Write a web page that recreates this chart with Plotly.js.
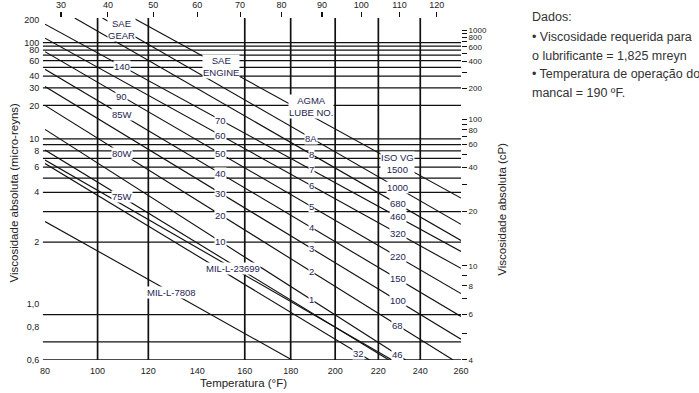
<!DOCTYPE html>
<html><head><meta charset="utf-8">
<script src="https://cdn.plot.ly/plotly-3.0.1.min.js"></script>
<style>html,body{margin:0;padding:0;background:#fff;}#chart{width:699px;height:393px;}</style>
</head><body><div id="chart"></div>
<script>
// ---- axis values ----
const tempTicksF = [80,100,120,140,160,180,200,220,240,260];
const tempGridF = [100,120,160,180,200,220,240];
const tempTicksC = [30,40,50,60,70,80,90,100,110,120];
const viscTicks = [200,100,80,60,40,30,20,10,8,6,4,2,1.0,0.8,0.6];
const viscTickText = ["200","100","80","60","40","30","20","10","8","6","4","2","1,0","0,8","0,6"];
const viscGrid = [100,90,80,70,60,50,40,30,20,10,9,8,7,6,5,4,3,2,0.9,0.7];
const cpTicks = [1000,900,800,700,600,500,400,300,200,100,90,80,70,60,50,40,30,20,10,9,8,7,6,5,4];
const cpTickText = ["1000","","800","","600","","400","","200","100","","80","","60","","40","","20","10","","8","","6","","4"];

// ---- lines: start (temp °F, viscosity µreyn) and end ----
const lineNames = ["ISO 1500","ISO 1000","ISO 680","ISO 460","ISO 320","ISO 220","ISO 150","ISO 100","ISO 68","ISO 46","75W","MIL-L-23699","ISO 32","MIL-L-7808"];
const lineT1 = [114.0,101.9,91.2,80,80,80,80,80,80,80,80,80,80,80];
const lineV1 = [213.6,213.6,213.6,175.3,113.6,76.9,47.7,30.9,20.0,12.05,8.13,6.79,6.38,2.62];
const lineT2 = [260,260,260,260,260,260,260,260,256.1,233.0,225.0,226.5,215.9,180.6];
const lineV2 = [3.66,2.52,2.04,1.78,1.46,1.11,0.884,0.717,0.6,0.6,0.6,0.6,0.6,0.6];

// ---- labels placed on lines ----
const labelText = ["SAE<br>GEAR","140","90","85W","80W","75W",
 "SAE<br>ENGINE","70","60","50","40","30","20","10",
 "AGMA<br>LUBE NO.","8A","8","7","6","5","4","3","2","1",
 "ISO VG<br>1500","1000","680","460","320","220","150","100","68","46","32",
 "MIL-L-23699","MIL-L-7808"];
const labelLine = ["ISO 1000","ISO 460","ISO 220","ISO 150","ISO 68","75W",
 "ISO 1500","ISO 460","ISO 320","ISO 220","ISO 150","ISO 100","ISO 68","ISO 46",
 "ISO 1500","ISO 1000","ISO 680","ISO 460","ISO 320","ISO 220","ISO 150","ISO 100","ISO 68","ISO 46",
 "ISO 1500","ISO 1000","ISO 680","ISO 460","ISO 320","ISO 220","ISO 150","ISO 100","ISO 68","ISO 46","ISO 32",
 "MIL-L-23699","MIL-L-7808"];
const labelTemp = [109.4,109.4,109.4,109.4,109.4,109.4,
 149.8,149.8,149.8,149.8,149.8,149.8,149.8,149.8,
 189.1,189.1,189.1,189.1,189.1,189.1,189.1,189.1,189.1,189.1,
 229.1,229.1,229.1,229.1,229.1,229.1,229.1,229.1,229.1,229.1,210.6,
 155.1,129.2];

const notes = ["Dados:","• Viscosidade requerida para","o lubrificante = 1,825 mreyn","• Temperatura de operação do","mancal = 190 ºF."];

// ---- scales (ASTM-type chart: log T(abs) vs log log viscosity) ----
const X = T => Math.log10(T + 460);
const Y = v => Math.log10(Math.log10(6.895 * v + 0.7));
const Ycp = c => Math.log10(Math.log10(c + 0.7));
const C2F = c => c * 9 / 5 + 32;

const FONT = "Liberation Sans, Arial, sans-serif";
const traces = lineNames.map((n, i) => ({
  type: 'scatter', mode: 'lines', name: n,
  x: [X(lineT1[i]), X(lineT2[i])], y: [Y(lineV1[i]), Y(lineV2[i])],
  line: {color: '#111', width: 1.15}, hoverinfo: 'skip', showlegend: false
}));
traces.push({type: 'scatter', mode: 'markers', x: [X(150)], y: [Ycp(100)], xaxis: 'x2', yaxis: 'y2',
  marker: {opacity: 0}, hoverinfo: 'skip', showlegend: false});

const shapes = [];
tempGridF.forEach(T => shapes.push({type: 'line', xref: 'x', yref: 'paper', x0: X(T), x1: X(T), y0: 0, y1: 1,
  line: {color: '#111', width: 1.7}, layer: 'below'}));
viscGrid.forEach(v => shapes.push({type: 'line', xref: 'paper', yref: 'y', x0: -0.005, x1: 1, y0: Y(v), y1: Y(v),
  line: {color: '#111', width: 1.25}, layer: 'below'}));
shapes.push({type: 'line', xref: 'paper', yref: 'y', x0: -0.005, x1: 1, y0: Y(0.6), y1: Y(0.6),
  line: {color: '#111', width: 1.4}});

function yOnLine(name, T) {
  const i = lineNames.indexOf(name);
  const x1 = X(lineT1[i]), x2 = X(lineT2[i]), y1 = Y(lineV1[i]), y2 = Y(lineV2[i]);
  const t = (X(T) - x1) / (x2 - x1);
  return y1 + t * (y2 - y1);
}
const annotations = labelText.map((t, i) => ({
  x: X(labelTemp[i]), y: yOnLine(labelLine[i], labelTemp[i]), xref: 'x', yref: 'y',
  text: t, showarrow: false, xanchor: 'center', yanchor: 'middle',
  yshift: t.startsWith('AGMA') ? 9 : 0,
  font: {family: FONT, size: 9.5, color: '#1d2550'}, bgcolor: '#fff', borderpad: 0
}));
const noteY = [16.7, 37.3, 56, 74.3, 93.3];
notes.forEach((t, i) => annotations.push({
  xref: 'paper', yref: 'paper', x: (530 - 45) / 416, y: (360 - noteY[i]) / 342,
  xanchor: 'left', yanchor: 'middle', text: t, showarrow: false,
  font: {family: FONT, size: 12.5, color: '#333'}
}));
annotations.push({xref: 'paper', yref: 'paper', x: (243.5 - 45) / 416, y: (360 - 383) / 342,
  text: 'Temperatura (°F)', showarrow: false, xanchor: 'center', yanchor: 'middle',
  font: {family: FONT, size: 11.5, color: '#222'}});
annotations.push({xref: 'paper', yref: 'paper', x: (13 - 45) / 416, y: (360 - 192.5) / 342,
  text: 'Viscosidade absoluta (micro-reyns)', textangle: -90, showarrow: false,
  xanchor: 'center', yanchor: 'middle', font: {family: FONT, size: 11.5, color: '#222'}});
annotations.push({xref: 'paper', yref: 'paper', x: (501.7 - 45) / 416, y: (360 - 209) / 342,
  text: 'Viscosidade absoluta (cP)', textangle: -90, showarrow: false,
  xanchor: 'center', yanchor: 'middle', font: {family: FONT, size: 11.5, color: '#222'}});

const tickFont = {family: FONT, size: 9, color: '#222'};
const layout = {
  width: 699, height: 393, margin: {l: 45, r: 238, t: 18, b: 33},
  paper_bgcolor: '#fff', plot_bgcolor: '#fff', showlegend: false,
  xaxis: {range: [X(80), X(260)], tickvals: tempTicksF.map(X), ticktext: tempTicksF.map(String),
    ticks: 'outside', ticklen: 2, tickcolor: 'rgba(0,0,0,0)', showgrid: false, zeroline: false, showline: false,
    tickfont: tickFont, fixedrange: true},
  xaxis2: {overlaying: 'x', side: 'top', anchor: 'y', range: [X(80), X(260)],
    tickvals: tempTicksC.map(c => X(C2F(c))), ticktext: tempTicksC.map(String),
    ticks: 'outside', ticklen: 5, tickwidth: 1.2, tickcolor: '#111', showgrid: false, zeroline: false, showline: false,
    tickfont: tickFont, fixedrange: true},
  yaxis: {range: [Y(0.6), Y(213.6)], tickvals: viscTicks.map(Y), ticktext: viscTickText,
    ticks: 'outside', ticklen: 3, tickcolor: 'rgba(0,0,0,0)', showgrid: false, zeroline: false, showline: false,
    tickfont: tickFont, fixedrange: true},
  yaxis2: {overlaying: 'y', side: 'right', anchor: 'x', range: [Ycp(4) - 0.0006, Y(213.6)],
    tickvals: cpTicks.map(Ycp), ticktext: cpTickText,
    ticks: 'outside', ticklen: 5, tickwidth: 1, tickcolor: '#111', showgrid: false, zeroline: false, showline: false,
    tickfont: {family: FONT, size: 8, color: '#222'}, fixedrange: true},
  shapes: shapes, annotations: annotations
};
Plotly.newPlot('chart', traces, layout, {staticPlot: true, displayModeBar: false});
</script></body></html>
